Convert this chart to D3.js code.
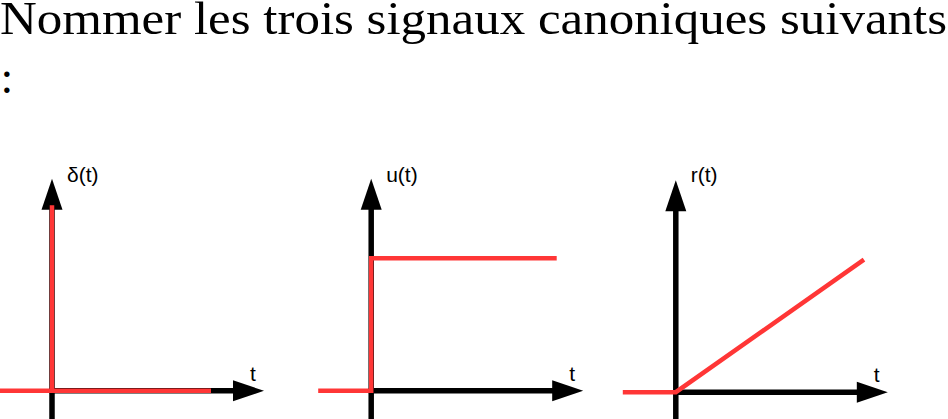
<!DOCTYPE html>
<html>
<head>
<meta charset="utf-8">
<script src="https://cdn.jsdelivr.net/npm/d3@7"></script>
<style>
  html, body { margin: 0; padding: 0; background: #fff; }
  svg { display: block; }
</style>
</head>
<body>
<svg id="chart" width="948" height="419"></svg>
<script>
// ---- data ----
const titleLine1 = "Nommer les trois signaux canoniques suivants";
const titleLine2 = ":";
const signalLabels = ["δ(t)", "u(t)", "r(t)"];
const axisLabel = "t";
const impulseT = [-1, 0, 0, 0, 3];
const impulseV = [0, 0, 1.4, 0, 0];
const stepT = [-1, 0, 0, 3.5];
const stepV = [0, 0, 1, 1];
const rampT = [-1, 0, 3.55];
const rampV = [0, 0, 1];
const tDomain = [-1, 4];
const vDomain = [0, 1.6];

// ---- layout ----
const W = 948, H = 419;
const red = "#ff3636";
const panels = [
  { ox: 52, oy: 390.8, t: impulseT, v: impulseV, label: signalLabels[0] },
  { ox: 371.2, oy: 390.8, t: stepT, v: stepV, label: signalLabels[1] },
  { ox: 675.8, oy: 392.2, t: rampT, v: rampV, label: signalLabels[2] }
];
const unitX = 53, axisLen = 212, headLen = 31, headHalf = 10.5;

const svg = d3.select("#chart");

svg.append("text")
  .attr("x", 0).attr("y", 34)
  .attr("font-family", "'Liberation Serif', 'DejaVu Serif', serif")
  .attr("font-size", 46)
  .attr("textLength", 947)
  .attr("lengthAdjust", "spacingAndGlyphs")
  .attr("fill", "#000")
  .text(titleLine1);

svg.append("text")
  .attr("x", 0.5).attr("y", 92.5)
  .attr("font-family", "'Liberation Serif', 'DejaVu Serif', serif")
  .attr("font-size", 46)
  .attr("fill", "#000")
  .text(titleLine2);

panels.forEach(p => {
  const x = d3.scaleLinear().domain(tDomain).range([p.ox - unitX * (0 - tDomain[0]), p.ox + axisLen]);
  const y = d3.scaleLinear().domain(vDomain).range([p.oy, p.oy - axisLen]);
  const g = svg.append("g");

  // axes (black)
  const x0 = x(0), y0 = y(0);
  const xTip = x(tDomain[1]), yTip = y(vDomain[1]);
  g.append("line")
    .attr("x1", x0 - 2.5).attr("y1", y0).attr("x2", xTip - headLen + 2).attr("y2", y0)
    .attr("stroke", "#000").attr("stroke-width", 5.5);
  g.append("line")
    .attr("x1", x0).attr("y1", H + 2).attr("x2", x0).attr("y2", yTip + headLen - 2)
    .attr("stroke", "#000").attr("stroke-width", 5.5);
  g.append("path")
    .attr("d", `M${xTip},${y0} L${xTip - headLen},${y0 - headHalf} L${xTip - headLen},${y0 + headHalf} Z`)
    .attr("fill", "#000");
  g.append("path")
    .attr("d", `M${x0},${yTip} L${x0 - headHalf},${yTip + headLen} L${x0 + headHalf},${yTip + headLen} Z`)
    .attr("fill", "#000");

  // signal (red)
  const pts = p.t.map((t, i) => [t, p.v[i]]);
  const line = d3.line().x(d => x(d[0])).y(d => y(d[1]));
  g.append("path")
    .attr("d", line(pts))
    .attr("fill", "none")
    .attr("stroke", red)
    .attr("stroke-width", 4.5)
    .attr("stroke-linejoin", "miter");

  // labels
  g.append("text")
    .attr("x", x0 + 15).attr("y", 182)
    .attr("font-family", "'Liberation Sans', Arial, sans-serif")
    .attr("font-size", 21)
    .attr("fill", "#000")
    .text(p.label);
  g.append("text")
    .attr("x", xTip - 14).attr("y", y0 - 10)
    .attr("font-family", "'Liberation Sans', Arial, sans-serif")
    .attr("font-size", 21)
    .attr("fill", "#000")
    .text(axisLabel);
});
</script>
</body>
</html>
